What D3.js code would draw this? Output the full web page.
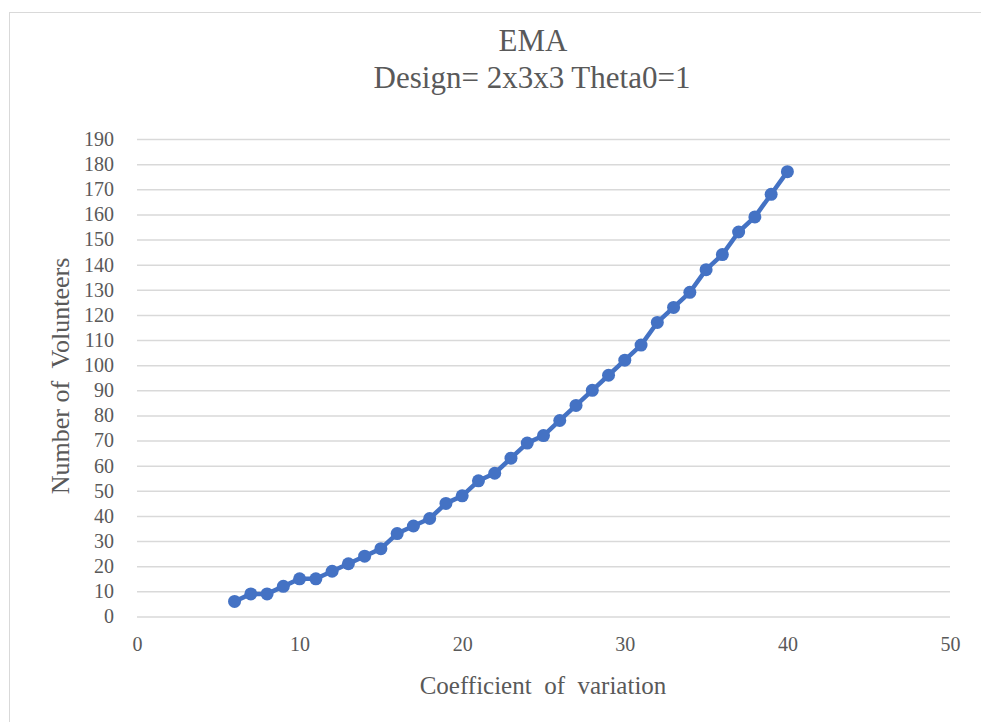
<!DOCTYPE html>
<html>
<head>
<meta charset="utf-8">
<script src="https://cdn.jsdelivr.net/npm/d3@7"></script>
<style>
  html, body { margin: 0; padding: 0; background: #fff; }
  svg { display: block; }
  svg text { font-family: "Liberation Serif", "Times New Roman", serif !important; fill: #595959; white-space: pre; }
</style>
</head>
<body>
<svg id="chart" width="981" height="722"></svg>
<script>
// Coefficient of variation (%) and the number of volunteers required
const cvValues = [6, 7, 8, 9, 10, 11, 12, 13, 14, 15, 16, 17, 18, 19, 20, 21, 22, 23,
                  24, 25, 26, 27, 28, 29, 30, 31, 32, 33, 34, 35, 36, 37, 38, 39, 40];
const volunteers = [6, 9, 9, 12, 15, 15, 18, 21, 24, 27, 33, 36, 39, 45, 48, 54, 57, 63,
                    69, 72, 78, 84, 90, 96, 102, 108, 117, 123, 129, 138, 144, 153, 159, 168, 177];
const xTicks = [0, 10, 20, 30, 40, 50];
const yTicks = d3.range(0, 191, 10);

const titleLines = ["EMA", "Design= 2x3x3 Theta0=1"];
const xLabel = "Coefficient  of  variation";
const yLabel = "Number of  Volunteers";

const svg = d3.select("#chart");
const W = 981, H = 722;
const plot = { left: 137, right: 950, top: 139, bottom: 616.5 };

// Outer chart frame
svg.append("rect")
  .attr("x", 9.5).attr("y", 12.5)
  .attr("width", W).attr("height", H)
  .attr("fill", "#fff").attr("stroke", "#d9d9d9").attr("stroke-width", 1);

const x = d3.scaleLinear().domain([0, 50]).range([plot.left, plot.right]);
const y = d3.scaleLinear().domain([0, 190]).range([plot.bottom, plot.top]);

// Horizontal gridlines with value labels
const yAxis = d3.axisLeft(y).tickValues(yTicks).tickSize(-(plot.right - plot.left)).tickPadding(23);
const gy = svg.append("g").attr("transform", `translate(${plot.left},0)`).call(yAxis);
gy.select(".domain").remove();
gy.selectAll(".tick line").attr("stroke", "#d9d9d9").attr("stroke-width", 1.5);
gy.selectAll(".tick text").attr("font-size", 20).attr("fill", "#595959");

// X axis labels (the zero gridline serves as baseline)
const xAxis = d3.axisBottom(x).tickValues(xTicks).tickSize(0).tickPadding(20);
const gx = svg.append("g").attr("transform", `translate(0,${plot.bottom})`).call(xAxis);
gx.select(".domain").remove();
gx.selectAll(".tick text").attr("font-size", 20).attr("fill", "#595959");

// Series line and markers
const pts = cvValues.map((c, i) => [c, volunteers[i]]);
const line = d3.line().x(d => x(d[0])).y(d => y(d[1]));
svg.append("path").datum(pts)
  .attr("d", line).attr("fill", "none")
  .attr("stroke", "#4472C4").attr("stroke-width", 4.5)
  .attr("stroke-linejoin", "round");
svg.append("g").selectAll("circle").data(pts).join("circle")
  .attr("cx", d => x(d[0])).attr("cy", d => y(d[1]))
  .attr("r", 6.5).attr("fill", "#4472C4");

// Titles
svg.append("text").attr("x", 533).attr("y", 51).attr("text-anchor", "middle")
  .attr("font-size", 31).text(titleLines[0]);
svg.append("text").attr("x", 532).attr("y", 88).attr("text-anchor", "middle")
  .attr("font-size", 31).text(titleLines[1]);

svg.append("text").attr("x", 543).attr("y", 694).attr("text-anchor", "middle")
  .attr("font-size", 25).text(xLabel);
svg.append("text")
  .attr("transform", "translate(69,376) rotate(-90)")
  .attr("text-anchor", "middle").attr("font-size", 26).text(yLabel);
</script>
</body>
</html>
